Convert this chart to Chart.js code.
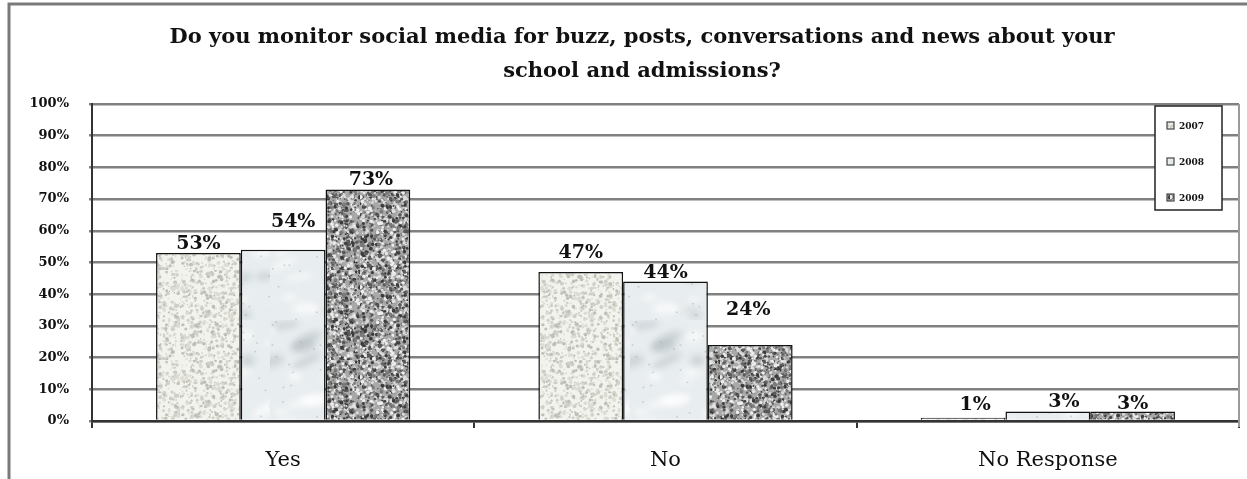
<!DOCTYPE html>
<html>
<head>
<meta charset="utf-8">
<title>Social media monitoring</title>
<script src="https://cdn.jsdelivr.net/npm/chart.js@4.4.1/dist/chart.umd.min.js"></script>
<style>
  html, body { margin: 0; padding: 0; background: #fff; }
  #wrap { width: 1247px; height: 479px; }
</style>
</head>
<body>
<div id="wrap"><canvas id="surveyChart" width="1247" height="479"></canvas></div>
<script>
// Survey answers, share of schools per year
const categories = ['Yes', 'No', 'No Response'];
const years = ['2007', '2008', '2009'];
const share2007 = [53, 47, 1];
const share2008 = [54, 44, 3];
const share2009 = [73, 24, 3];
const percentTicks = [0, 10, 20, 30, 40, 50, 60, 70, 80, 90, 100];

const titleLines = [
  'Do you monitor social media for buzz, posts, conversations and news about your',
  'school and admissions?'
];

// label placement per category (rows) and year (columns):
// lift above the bar top and a small sideways nudge, in px
const labelLift = [[9, 28, 10], [19, 8, 35], [13, 9, 7]];
const labelShift = [[0, 10, 3], [0, 0, -2], [12, 16, 0]];

// tiny seeded generator so the textures look the same on every load
function makeRng(seed) {
  let s = seed;
  return () => {
    s = (s * 1664525 + 1013904223) % 4294967296;
    return s / 4294967296;
  };
}

function speckleTexture(base, dots, count, seed) {
  const c = document.createElement('canvas');
  c.width = 90; c.height = 90;
  const g = c.getContext('2d');
  g.fillStyle = base;
  g.fillRect(0, 0, 90, 90);
  const rnd = makeRng(seed);
  for (let i = 0; i < count; i++) {
    g.fillStyle = dots[Math.floor(rnd() * dots.length)];
    const r = 0.6 + rnd() * 1.4;
    g.beginPath();
    g.arc(rnd() * 90, rnd() * 90, r, 0, Math.PI * 2);
    g.fill();
  }
  return g.createPattern(c, 'repeat');
}

function marbleTexture(seed) {
  const c = document.createElement('canvas');
  c.width = 90; c.height = 160;
  const g = c.getContext('2d');
  g.fillStyle = '#e8edef';
  g.fillRect(0, 0, 90, 160);
  const rnd = makeRng(seed);
  g.filter = 'blur(3px)';
  for (let i = 0; i < 26; i++) {
    g.fillStyle = rnd() > 0.5 ? 'rgba(150,158,165,0.3)' : 'rgba(255,255,255,0.6)';
    g.beginPath();
    g.ellipse(rnd() * 90, rnd() * 160, 6 + rnd() * 16, 2 + rnd() * 5, -0.5 + rnd() * 0.6, 0, Math.PI * 2);
    g.fill();
  }
  g.filter = 'none';
  for (let i = 0; i < 40; i++) {
    g.fillStyle = 'rgba(140,145,150,0.4)';
    g.fillRect(rnd() * 90, rnd() * 160, 1.5, 1.5);
  }
  return g.createPattern(c, 'repeat');
}

const fills = [
  speckleTexture('#f3f3ee', ['#cfcfc8', '#dcdcd4', '#bfbfb8'], 700, 7),
  marbleTexture(11),
  speckleTexture('#a8a8a8', ['#3c3c3c', '#5a5a5a', '#dadada', '#eeeeee', '#7a7a7a'], 1400, 23)
];

// outer frame, plot border, title
const framePlugin = {
  id: 'frame',
  beforeDraw(chart) {
    const ctx = chart.ctx;
    ctx.save();
    ctx.fillStyle = '#fff';
    ctx.fillRect(0, 0, chart.width, chart.height);
    ctx.strokeStyle = '#7a7a7a';
    ctx.lineWidth = 3;
    ctx.beginPath();
    ctx.moveTo(9, chart.height);
    ctx.lineTo(9, 4);
    ctx.lineTo(chart.width, 4);
    ctx.stroke();

    ctx.fillStyle = '#111';
    ctx.font = 'bold 21px "DejaVu Serif"';
    ctx.textAlign = 'center';
    ctx.textBaseline = 'alphabetic';
    ctx.fillText(titleLines[0], 642, 43);
    ctx.fillText(titleLines[1], 642, 77);
    ctx.restore();
  },
  beforeDatasetsDraw(chart) {
    const { ctx, chartArea } = chart;
    ctx.save();
    ctx.strokeStyle = '#9a9a9a';
    ctx.lineWidth = 2;
    ctx.beginPath();
    ctx.moveTo(chartArea.right, chartArea.top);
    ctx.lineTo(chartArea.right, chartArea.bottom + 6);
    ctx.stroke();
    ctx.restore();
  }
};

// value labels above bars
const valueLabels = {
  id: 'valueLabels',
  afterDatasetsDraw(chart) {
    const ctx = chart.ctx;
    ctx.save();
    ctx.font = 'bold 19px "DejaVu Serif"';
    ctx.fillStyle = '#111';
    ctx.textAlign = 'center';
    ctx.textBaseline = 'middle';
    chart.data.datasets.forEach((ds, di) => {
      chart.getDatasetMeta(di).data.forEach((bar, i) => {
        ctx.fillText(ds.data[i] + '%', bar.x + labelShift[i][di], bar.y - labelLift[i][di]);
      });
    });
    ctx.restore();
  }
};

// boxed legend inside the plot, top right
const boxLegend = {
  id: 'boxLegend',
  afterDraw(chart) {
    const { ctx, chartArea } = chart;
    const x0 = chartArea.right - 84, y0 = chartArea.top + 2;
    ctx.save();
    ctx.fillStyle = '#fff';
    ctx.fillRect(x0, y0, 67, 104);
    ctx.strokeStyle = '#222';
    ctx.lineWidth = 1.5;
    ctx.strokeRect(x0, y0, 67, 104);
    ctx.font = 'bold 9px "DejaVu Serif"';
    ctx.textBaseline = 'middle';
    chart.data.datasets.forEach((ds, i) => {
      const cy = y0 + 20 + i * 36;
      ctx.fillStyle = ds.backgroundColor;
      ctx.fillRect(x0 + 12, cy - 4, 7, 7);
      ctx.strokeStyle = '#444';
      ctx.lineWidth = 1.2;
      ctx.strokeRect(x0 + 12, cy - 4, 7, 7);
      ctx.fillStyle = '#111';
      ctx.fillText(ds.label, x0 + 24, cy + 1);
    });
    ctx.restore();
  }
};

const shares = [share2007, share2008, share2009];

new Chart(document.getElementById('surveyChart'), {
  type: 'bar',
  data: {
    labels: categories,
    datasets: years.map((yr, i) => ({
      label: yr,
      data: shares[i],
      backgroundColor: fills[i],
      borderColor: '#111',
      borderWidth: 1.5,
      categoryPercentage: 0.665,
      barPercentage: 1.0
    }))
  },
  options: {
    responsive: false,
    animation: false,
    layout: { padding: { left: 0, right: 8, top: 104, bottom: 0 } },
    plugins: {
      legend: { display: false },
      title: { display: false },
      tooltip: { enabled: false }
    },
    scales: {
      x: {
        grid: {
          drawOnChartArea: false,
          drawTicks: true,
          tickLength: 7,
          color: '#333',
          lineWidth: 2
        },
        border: { display: true, color: '#333', width: 2.5 },
        ticks: {
          color: '#111',
          padding: 20,
          font: { family: 'DejaVu Serif', size: 21 }
        },
        afterFit(scale) { scale.height = 58; }
      },
      y: {
        min: 0,
        max: 100,
        afterBuildTicks(scale) {
          scale.ticks = percentTicks.map(v => ({ value: v }));
        },
        grid: {
          color: '#808080',
          lineWidth: 2.5,
          drawTicks: true,
          tickLength: 3
        },
        border: { display: true, color: '#333', width: 2 },
        ticks: {
          color: '#111',
          padding: 20,
          font: { family: 'DejaVu Serif', size: 13, weight: 'bold' },
          callback: v => v + '%'
        },
        afterFit(scale) { scale.width = 92; }
      }
    }
  },
  plugins: [framePlugin, valueLabels, boxLegend]
});
</script>
</body>
</html>
